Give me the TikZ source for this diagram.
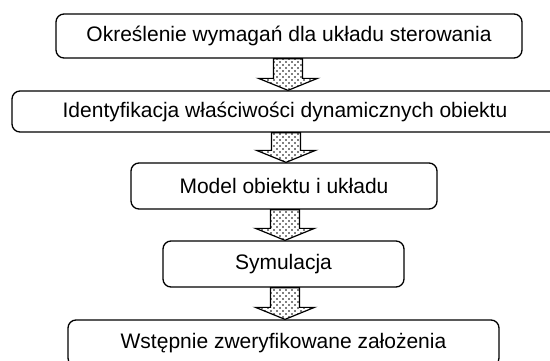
\documentclass[tikz,border=0pt]{standalone}
\usepackage{fontspec}
\setmainfont{Liberation Sans}
\usetikzlibrary{patterns,calc}
\pgfdeclarepatternformonly{sparsedots}{\pgfqpoint{-1pt}{-1pt}}{\pgfqpoint{6pt}{6pt}}{\pgfqpoint{6pt}{6pt}}{%
  \pgfpathcircle{\pgfqpoint{1pt}{1pt}}{0.8pt}
  \pgfpathcircle{\pgfqpoint{4pt}{4pt}}{0.8pt}
  \pgfusepath{fill}}
\tikzset{
  box/.style={draw, line width=1.3pt, rounded corners=8pt, inner sep=0pt,
    font=\fontsize{21pt}{25pt}\selectfont},
  barrow/.style={draw, line width=1.2pt, line join=miter,
    preaction={fill=white}, pattern=sparsedots, pattern color=black}
}
\newcommand\blockarrowx[3]{%
  \draw[barrow] let \p1=(#1.south), \p2=(#2.north) in
    (#3pt-14.5pt,\y1) -- (#3pt+14.5pt,\y1) -- (#3pt+14.5pt,\y2+12pt)
    -- (#3pt+29.5pt,\y2+12pt) -- (#3pt,\y2) -- (#3pt-29.5pt,\y2+12pt)
    -- (#3pt-14.5pt,\y2+12pt) -- cycle;}
\begin{document}
\begin{tikzpicture}[x=1pt,y=1pt]
\useasboundingbox (0,0) rectangle (550,-360);
\clip (0,0) rectangle (550,-360);
\fill[white] (0,0) rectangle (550,-360);
\node[box, minimum width=466pt, minimum height=44pt] (b1) at (289,-36) {Określenie wymagań dla układu sterowania};
\node[box, minimum width=546pt, minimum height=41pt] (b2) at (285,-111.5) {Identyfikacja właściwości dynamicznych obiektu};
\node[box, minimum width=306pt, minimum height=46pt] (b3) at (284,-186) {Model obiektu i układu};
\node[box, minimum width=241pt, minimum height=46pt] (b4) at (283.5,-264) {Symulacja};
\node[box, minimum width=431pt, minimum height=46pt] (b5) at (283.5,-343) {Wstępnie zweryfikowane założenia};
\blockarrowx{b1}{b2}{288}
\blockarrowx{b2}{b3}{286}
\blockarrowx{b3}{b4}{285}
\blockarrowx{b4}{b5}{285}
\end{tikzpicture}
\end{document}
